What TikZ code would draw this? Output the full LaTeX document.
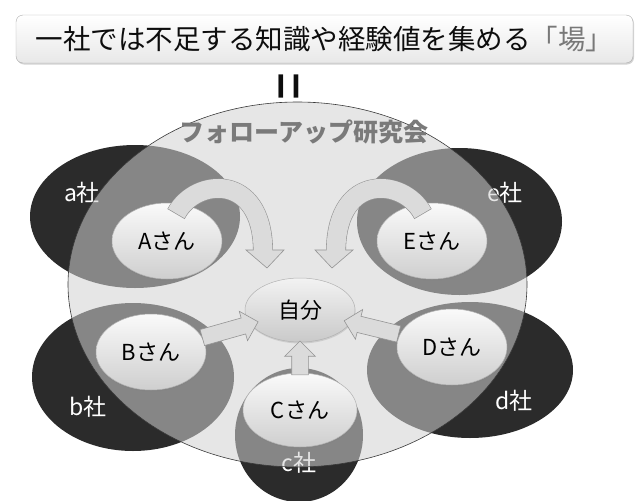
\documentclass[tikz,border=0pt]{standalone}
\usepackage{fontspec}
\setmainfont{Noto Sans CJK JP}
\usetikzlibrary{shapes.geometric,shapes.arrows,shadows,calc}
\definecolor{compc}{gray}{0.17}
\definecolor{kaifill}{gray}{0.82}
\definecolor{arrfill}{gray}{0.86}
\definecolor{arrline}{gray}{0.58}
\definecolor{kaitext}{gray}{0.48}
\begin{document}
\begin{tikzpicture}[x=1pt,y=1pt,
  comp/.style={ellipse, fill=compc, inner sep=0pt},
  person/.style={ellipse, draw=gray!60, line width=0.5pt, top color=gray!4, bottom color=gray!38,
    minimum width=110pt, minimum height=76pt, inner sep=0pt, font=\fontsize{22}{24}\selectfont,
    drop shadow={opacity=0.25, shadow xshift=0.5pt, shadow yshift=-1.5pt}},
  clabel/.style={text=white, font=\fontsize{23}{25}\selectfont, inner sep=0pt},
  barrow/.style={single arrow, draw=arrline, fill=arrfill, line width=0.6pt, inner xsep=0pt,
    inner ysep=8pt, single arrow head extend=7pt, single arrow tip angle=90,
    single arrow head indent=0pt, sloped, allow upside down},
  bandout/.style={draw=arrline, line width=20pt},
  bandin/.style={draw=arrfill, line width=18.8pt, shorten <=0.7pt},
  headsty/.style={draw=arrline, fill=arrfill, line width=0.6pt, line join=miter},
]
\useasboundingbox (0,0) rectangle (643,-501);

% title
\node[draw=gray!65, rounded corners=7pt, top color=white, bottom color=gray!18,
  minimum width=617pt, minimum height=48pt, inner sep=0pt,
  font=\fontsize{27.5}{30}\selectfont, text=gray!10!black,
  drop shadow={shadow xshift=1pt, shadow yshift=-1.5pt, opacity=0.35}]
  (title) at (324.5,-39) {一社では不足する知識や経験値を集める{\color[gray]{0.47}「場」}};
\node[rotate=90, yscale=2.1, font=\fontsize{32}{34}\selectfont, text=gray!10!black, inner sep=0pt]
  (eq) at (297,-86) {＝};

% companies
\node[comp, minimum width=210pt, minimum height=143pt] (ca) at (135,-216.5) {};
\node[comp, minimum width=205pt, minimum height=147pt] (ce) at (459.5,-221.5) {};
\node[comp, minimum width=202pt, minimum height=148pt] (cb) at (133,-377) {};
\node[comp, minimum width=206pt, minimum height=136pt] (cd) at (470,-370) {};
\node[comp, minimum width=128pt, minimum height=134pt] (cc) at (299,-435) {};

\node[clabel] (la) at (82,-193) {a社};
\node[clabel] (le) at (505,-193) {e社};
\node[clabel] (lb) at (88,-407) {b社};
\node[clabel] (ld) at (514,-401) {d社};
\node[clabel] (lc) at (299,-463) {c社};

% big circle
\node[ellipse, minimum width=459pt, minimum height=365pt, fill=kaifill, fill opacity=0.55,
  draw=gray!45!black, line width=0.6pt, inner sep=0pt] (kai) at (297.5,-284.5) {};
\node[font=\fontsize{25}{27}\selectfont\bfseries, text=kaitext, inner sep=0pt]
  (kainame) at (304,-132) {フォローアップ研究会};

% persons
\node[person] (A) at (167,-241) {Aさん};
\node[person] (E) at (432,-241) {Eさん};
\node[person] (B) at (151,-352) {Bさん};
\node[person] (D) at (452,-347) {Dさん};
\node[person, minimum width=114pt, minimum height=74pt] (C) at (300,-410) {Cさん};
\node[person, minimum height=64pt, top color=gray!10, bottom color=gray!42] (self) at (300,-310) {自分};

% straight arrows
\path (B) -- (self) node[barrow, pos=0.5, minimum height=58pt] (arB) {};
\path (D) -- (self) node[barrow, pos=0.5, minimum height=56pt] (arD) {};
\path (C) -- (self) node[barrow, pos=0.35, minimum height=34pt] (arC) {};

% curved arrow A
\coordinate (aT) at (176,-214);
\coordinate (aC1) at (195,-178);
\coordinate (aC2) at (262,-172);
\coordinate (aE) at (263,-250);
\coordinate (aX) at (263.1,-253);
\coordinate (aH1) at (246,-250);
\coordinate (aH2) at (284,-250);
\coordinate (aTip) at (267,-268);
\draw[bandout] (aT) .. controls (aC1) and (aC2) .. (aE);
\draw[headsty] (aH1) -- (aH2) -- (aTip) -- cycle;
\draw[bandin] (aT) .. controls (aC1) and (aC2) .. (aE) -- (aX);

% curved arrow E
\coordinate (eT) at (423,-214);
\coordinate (eC1) at (404,-178);
\coordinate (eC2) at (337,-172);
\coordinate (eE) at (336,-250);
\coordinate (eX) at (335.9,-253);
\coordinate (eH1) at (353,-250);
\coordinate (eH2) at (315,-250);
\coordinate (eTip) at (332,-268);
\draw[bandout] (eT) .. controls (eC1) and (eC2) .. (eE);
\draw[headsty] (eH1) -- (eH2) -- (eTip) -- cycle;
\draw[bandin] (eT) .. controls (eC1) and (eC2) .. (eE) -- (eX);
\end{tikzpicture}
\end{document}
